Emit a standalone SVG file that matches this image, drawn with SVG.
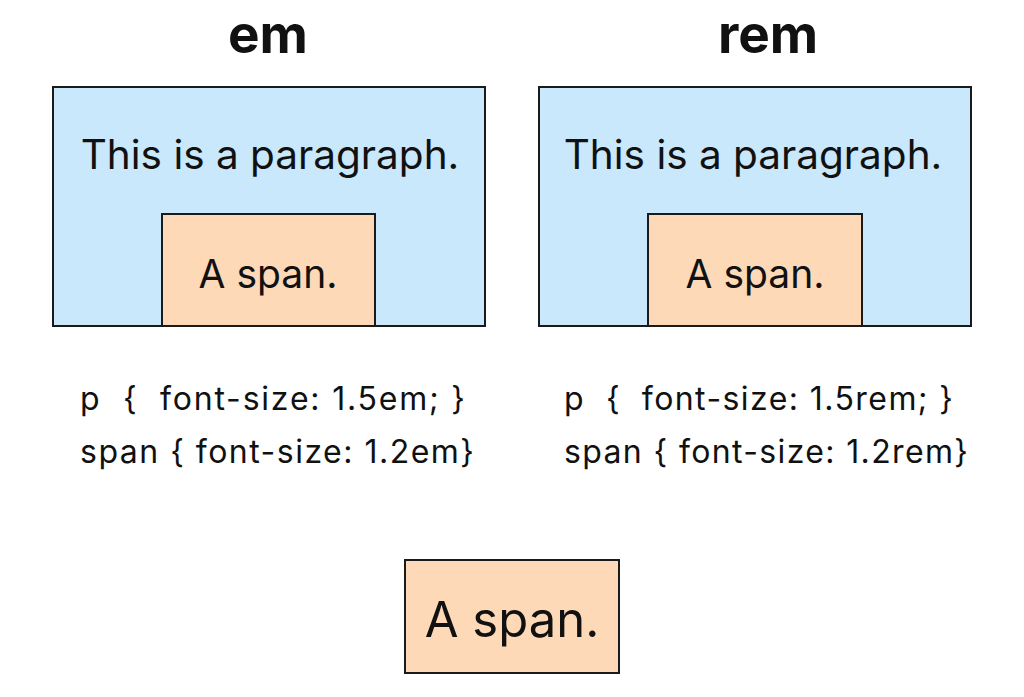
<svg xmlns="http://www.w3.org/2000/svg" width="1024" height="697" viewBox="0 0 1024 697">
<style>
.p{fill:#c9e8fb;stroke:#1a1a1a;stroke-width:2}
.s{fill:#fdd9b8;stroke:#1a1a1a;stroke-width:2}
text{font-family:Inter,"Liberation Sans",sans-serif;fill:#111}
.t{font-size:53px;font-weight:bold;text-anchor:middle}
.pt{font-size:40.5px;text-anchor:middle}
.st{font-size:39px;text-anchor:middle}
.c{font-size:32px}
</style>
<rect width="1024" height="697" fill="#fff"/>
<g id="em">
<text class="t" x="268" y="53">em</text>
<rect class="p" x="53" y="87" width="432" height="239"/>
<text class="pt" x="270" y="169">This is a paragraph.</text>
<rect class="s" x="162" y="214" width="213" height="112"/>
<text class="st" x="268" y="288">A span.</text>
<text class="c" x="80" y="410" textLength="385" xml:space="preserve">p  {  font-size: 1.5em; }</text>
<text class="c" x="80" y="463" textLength="394">span { font-size: 1.2em}</text>
</g>
<g id="rem">
<text class="t" x="768" y="53">rem</text>
<rect class="p" x="539" y="87" width="432" height="239"/>
<text class="pt" x="753" y="169">This is a paragraph.</text>
<rect class="s" x="648" y="214" width="214" height="112"/>
<text class="st" x="755" y="288">A span.</text>
<text class="c" x="564" y="410" textLength="389" xml:space="preserve">p  {  font-size: 1.5rem; }</text>
<text class="c" x="564" y="463" textLength="404">span { font-size: 1.2rem}</text>
</g>
<g id="result">
<rect class="s" x="405" y="560" width="214" height="113"/>
<text style="font-size:49px;text-anchor:middle" x="512" y="637">A span.</text>
</g>
<g id="connectors"/>
</svg>
